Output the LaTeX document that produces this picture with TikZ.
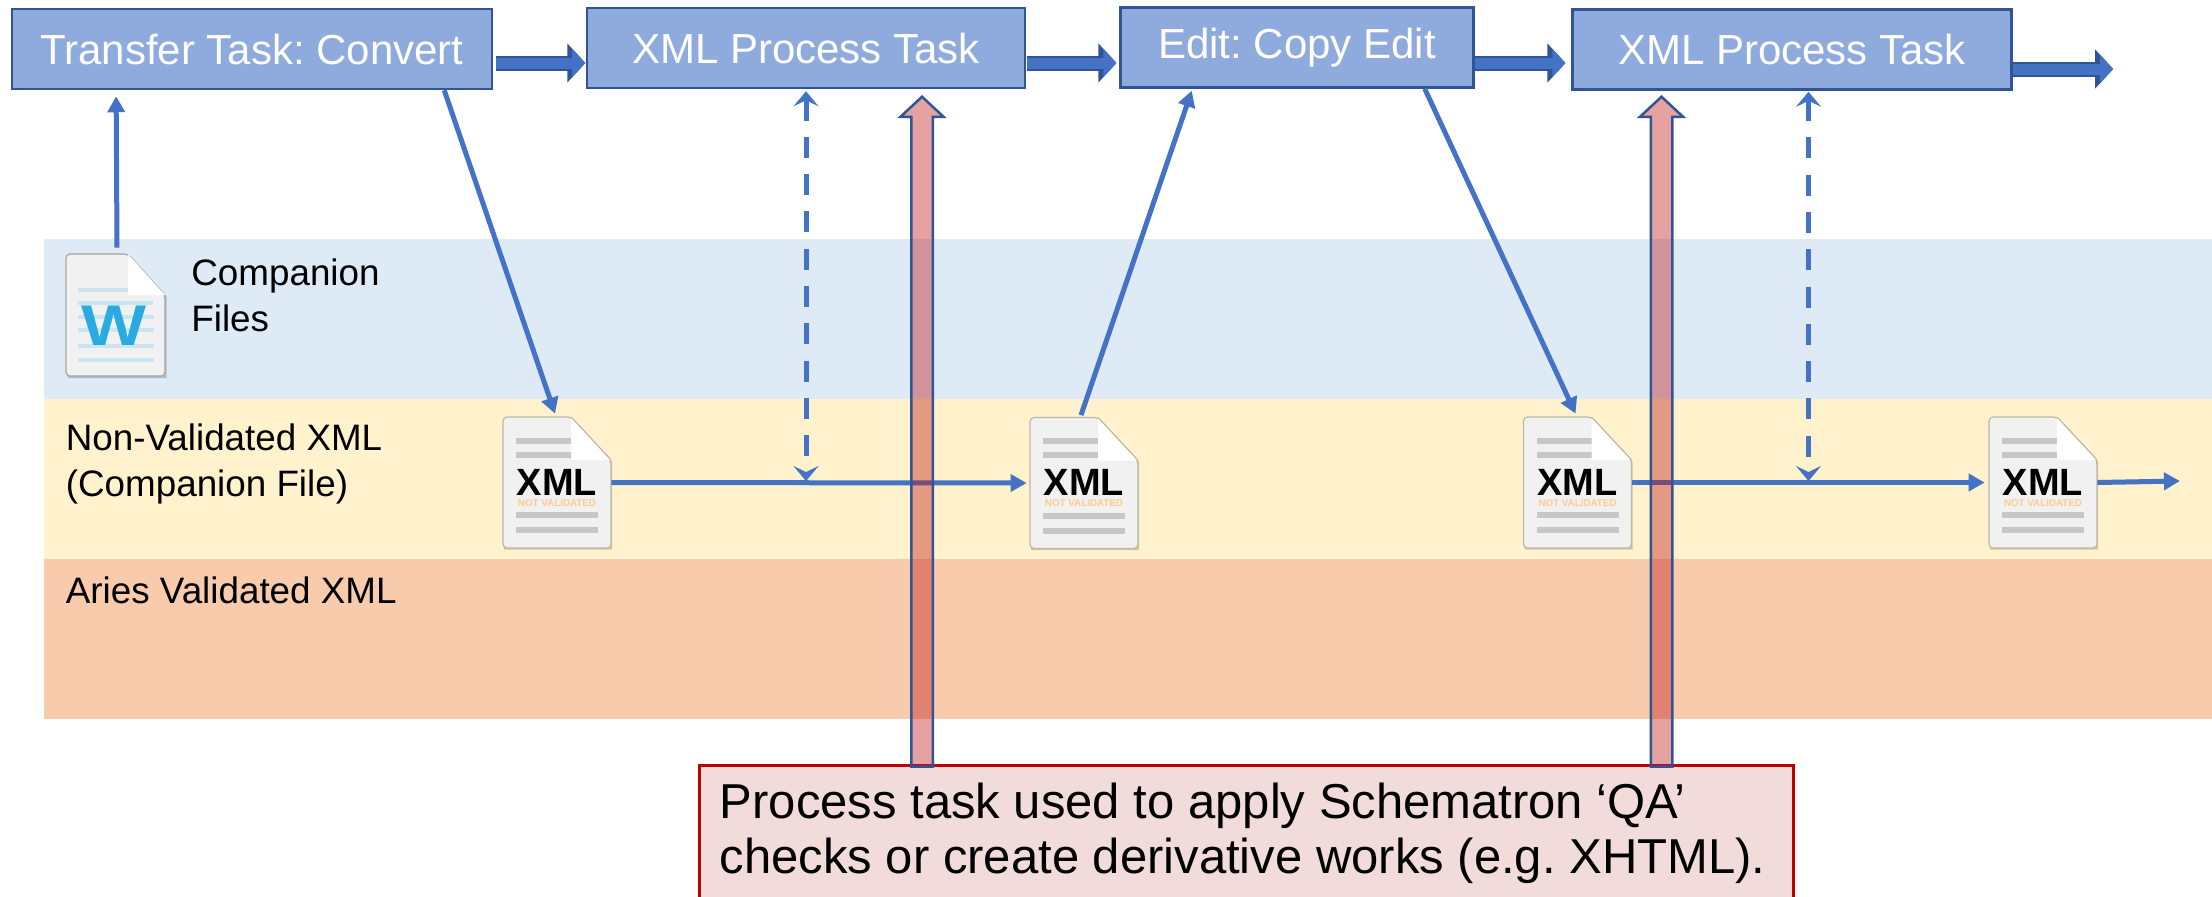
\documentclass[tikz,border=0pt]{standalone}
\usepackage{fontspec}
\setmainfont{Liberation Sans}
\usetikzlibrary{arrows.meta,shapes.arrows}
\definecolor{linkblue}{HTML}{4472C4}
\definecolor{edgeblue}{HTML}{2F5597}
\definecolor{taskblue}{HTML}{8FAADC}
\definecolor{bandblue}{HTML}{DEEAF6}
\definecolor{bandyellow}{HTML}{FFF2CC}
\definecolor{bandorange}{HTML}{F7CBAC}
\definecolor{noteedge}{HTML}{C00000}
\definecolor{notepink}{HTML}{F2DCDB}
\definecolor{qared}{HTML}{C01414}
\definecolor{docgrey}{HTML}{F1F1F1}
\definecolor{docedge}{HTML}{BDB7A8}
\definecolor{barblue}{HTML}{CBE5F0}
\definecolor{wordblue}{HTML}{29ABE2}
\definecolor{notvalid}{HTML}{FFC98F}
\tikzset{
	task/.style={draw=edgeblue, line width=1.25pt, fill=taskblue, text=white, minimum height=40pt, font=\fontsize{21}{25}\selectfont},
	fatlink/.style={preaction={draw=edgeblue, line width=7.5pt, -{Triangle[length=9pt,width=19pt]}}, draw=linkblue, line width=5.5pt, -{Triangle[length=6.6pt,width=14pt]}, shorten >=1.4pt},
	link/.style={draw=linkblue, line width=2.5pt, -{Triangle[length=8pt,width=8.5pt]}},
	tap/.style={draw=linkblue, line width=2.5pt, dash pattern=on 10.5pt off 8.15pt, {Stealth[length=7.5pt,width=12.5pt,inset=3pt]}-{Stealth[length=7.5pt,width=12.5pt,inset=3pt]}},
	qaarrow/.style={single arrow, shape border rotate=90, anchor=tip, draw=edgeblue, line width=1.25pt, fill=qared, fill opacity=0.4, draw opacity=1, minimum width=20.25pt, single arrow head extend=5.4pt, single arrow tip angle=94, inner sep=4.75pt},
	bandlabel/.style={anchor=base west, inner sep=0pt, font=\fontsize{18.4}{23}\selectfont},
	docnode/.style={minimum width=54pt, minimum height=65.5pt, inner sep=0pt},
}
% one file icon, the sheet with its folded corner
\newcommand{\docsheet}{
	\fill[black, opacity=0.18] (-53,-64) -- (15,-64) -- (55,-21) -- (55,67) -- (-53,67) -- cycle;
	\draw[fill=docgrey, draw=docedge, line width=0.6pt, rounded corners=2pt] (-54,-65.5) -- (14,-65.5) -- (54,-22.5) -- (54,65.5) -- (-54,65.5) -- cycle;
}
\newcommand{\docfold}{
	\fill[white, rounded corners=1pt] (14,-65.5) -- (54,-22.5) -- (14,-22.5) -- cycle;
	\draw[docedge, line width=0.5pt] (14,-65.5) -- (54,-22.5);
}
\begin{document}
\frenchspacing
\begin{tikzpicture}[x=0.5pt, y=-0.5pt]
\useasboundingbox (0,0) rectangle (2212,896);
% Bands
\fill[bandblue] (44,239) rectangle (2212,399);
\fill[bandyellow] (44,399) rectangle (2212,559);
\fill[bandorange] (44,559) rectangle (2212,719);
\node[bandlabel, align=left] (companionLabel) at (191,331) {Companion\\Files};
\node[bandlabel, align=left] (nonValidLabel) at (65.5,496) {Non-Validated XML\\(Companion File)};
\node[bandlabel] (ariesLabel) at (65.5,603) {Aries Validated XML};
% Tasks
\node[task, minimum width=240pt] (taskA) at (252,49) {Transfer Task: Convert};
\node[task, minimum width=219pt] (taskB) at (806,48) {XML Process Task};
\node[task, minimum width=176.5pt] (taskC) at (1297,47.5) {Edit: Copy Edit};
\node[task, minimum width=219.5pt] (taskD) at (1792,49.5) {XML Process Task};
\coordinate (taskEnd) at (2116,69);
% File icons
\node[docnode, minimum width=49.5pt, minimum height=61pt] (wordDoc) at (115.5,315) {};
\begin{scope}[shift={(115.5,315)}]
	\fill[black, opacity=0.2] (-48,-59) -- (14,-59) -- (51,-19) -- (51,63) -- (-48,63) -- cycle;
	\draw[fill=docgrey, draw=gray!70, line width=0.6pt, rounded corners=2pt] (-49.5,-61) -- (12.5,-61) -- (49.5,-20) -- (49.5,61) -- (-49.5,61) -- cycle;
	\foreach \y/\xend in {-25/12.5, -12/37, 2/38, 15/38, 31/38, 45/38}
		\fill[barblue] (-38,\y-2) rectangle (\xend,\y+2);
	\fill[white] (12.5,-61) -- (49.5,-20) -- (12.5,-20) -- cycle;
	\node[text=wordblue, font=\fontsize{28.7}{30}\bfseries\selectfont, inner sep=0pt] (wordMark) at (-1,11) {\scalebox{1.2}[1]{W}};
\end{scope}
\foreach \docname/\px/\py in {xmlA/557/482.5, xmlB/1084/483, xmlC/1577.5/482.5, xmlD/2043/482.5} {
	\node[docnode] (\docname) at (\px,\py) {};
	\begin{scope}[shift={(\px,\py)}]
		\docsheet
		\fill[black!22] (-41,-45) rectangle (14,-39);
		\fill[black!22] (-41,-31) rectangle (14,-25);
		\docfold
		\fill[black!22] (-41,29.5) rectangle (41,35.5);
		\fill[black!22] (-41,44.5) rectangle (41,50.5);
		\node[font=\fontsize{19}{20}\bfseries\selectfont, inner sep=0pt] (\docname Mark) at (0,-0.5) {XML};
		\node[text=notvalid, font=\fontsize{4.9}{5}\bfseries\selectfont, inner sep=0pt] (\docname Note) at (0,20.5) {NOT VALIDATED};
	\end{scope}
}
\coordinate (xmlEnd) at (2180,481);
\coordinate (tapA) at (806,481);
\coordinate (tapB) at (1808.5,481);
% Links
\draw[fatlink] ([xshift=1.5pt,yshift=-7pt]taskA.east) -- ([xshift=1.2pt,yshift=-7.5pt]taskB.west);
\draw[fatlink] ([xshift=0.5pt,yshift=-7.5pt]taskB.east) -- ([yshift=-7.75pt]taskC.west);
\draw[fatlink] ([yshift=-7.75pt]taskC.east) -- ([xshift=-1.5pt,yshift=-6.75pt]taskD.west);
\draw[fatlink] ([yshift=-9.75pt]taskD.east) -- (taskEnd);
\draw[link] ([xshift=0.75pt,yshift=3pt]wordDoc.north) -- ([xshift=52.7pt,yshift=-3pt]taskA.south west);
\draw[link] ([xshift=-24.5pt]taskA.south east) -- ([xshift=-1pt,yshift=1.5pt]xmlA.north);
\draw[link, shorten >=1.5pt] (xmlA.east) -- (xmlB.west);
\draw[link] ([xshift=-1.5pt,yshift=1pt]xmlB.north) -- ([xshift=-141.5pt,yshift=-1pt]taskC.south east);
\draw[link] ([xshift=-25pt]taskC.south east) -- ([xshift=-1pt,yshift=1.5pt]xmlC.north);
\draw[link, shorten >=2pt] (xmlC.east) -- (xmlD.west);
\draw[link] (xmlD.east) -- (xmlEnd);
\draw[tap] ([yshift=-1pt]taskB.south) -- (tapA);
\draw[tap] ([xshift=8.25pt,yshift=-0.5pt]taskD.south) -- (tapB);
% Note and the two red arrows
\node[draw=noteedge, line width=1.25pt, fill=notepink, anchor=north west, minimum width=547pt, minimum height=72pt, inner xsep=11pt, inner ysep=0pt] (qaNote) at (698,764) {};
\node[qaarrow, minimum height=335pt] (qaArrowA) at (922,95) {};
\node[qaarrow, minimum height=335pt] (qaArrowB) at (1661.5,95) {};
\node[anchor=base west, align=left, inner sep=0pt, font=\fontsize{24.5}{27.5}\selectfont] (qaText) at (719.5,873) {Process task used to apply Schematron ‘QA’\\checks or create derivative works (e.g. XHTML).};
\end{tikzpicture}
\end{document}
